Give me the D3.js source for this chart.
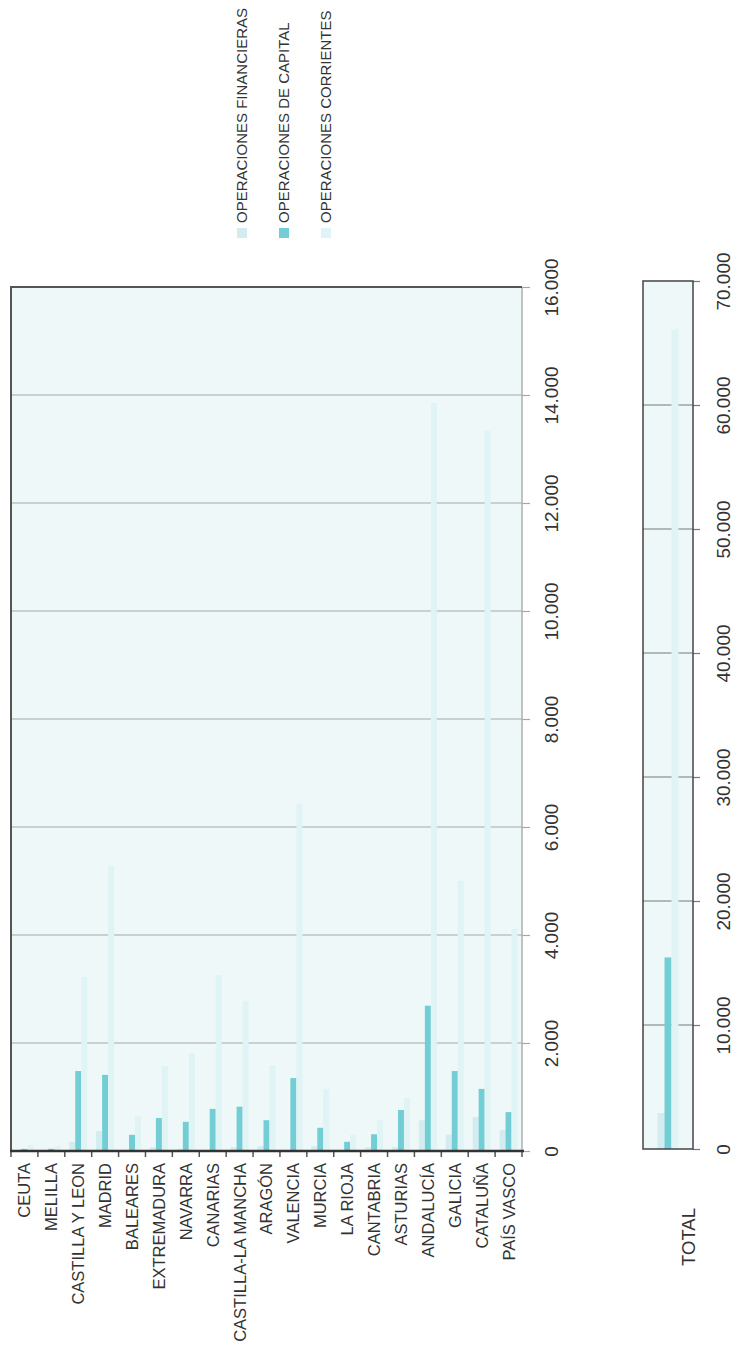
<!DOCTYPE html>
<html>
<head>
<meta charset="utf-8">
<script src="https://cdn.jsdelivr.net/npm/d3@7"></script>
<style>
  body { margin: 0; background: #fff; }
  svg { display: block; font-family: 'Liberation Sans', Arial, sans-serif; }
</style>
</head>
<body>
<div id="chart"></div>
<script>
// data (millones)
var categories = ['CEUTA', 'MELILLA', 'CASTILLA Y LEON', 'MADRID', 'BALEARES', 'EXTREMADURA',
  'NAVARRA', 'CANARIAS', 'CASTILLA-LA MANCHA', 'ARAGÓN', 'VALENCIA', 'MURCIA', 'LA RIOJA',
  'CANTABRIA', 'ASTURIAS', 'ANDALUCÍA', 'GALICIA', 'CATALUÑA', 'PAÍS VASCO'];
var financieras = [10, 10, 170, 370, 10, 70, 40, 0, 70, 90, 0, 90, 0, 70, 70, 570, 300, 630, 390];
var capital = [40, 40, 1480, 1410, 300, 610, 540, 780, 820, 570, 1350, 430, 170, 310, 760, 2690, 1480, 1150, 720];
var corrientes = [110, 90, 3220, 5280, 650, 1570, 1810, 3260, 2780, 1590, 6430, 1150, 300, 570, 980, 13850, 5000, 13330, 4110];

var totalLabel = ['TOTAL'];
var totalFinancieras = [2900];
var totalCapital = [15450];
var totalCorrientes = [66100];

var seriesNames = ['OPERACIONES FINANCIERAS', 'OPERACIONES DE CAPITAL', 'OPERACIONES CORRIENTES'];
var mainTicks = [0, 2000, 4000, 6000, 8000, 10000, 12000, 14000, 16000];
var totalTicks = [0, 10000, 20000, 30000, 40000, 50000, 60000, 70000];

var colors = ['#d3ecf0', '#72cdd4', '#e0f3f5'];
var bg = '#eef8f9';

var svgWidth = 733, svgHeight = 1348;
var svg = d3.select('#chart').append('svg')
  .attr('width', svgWidth)
  .attr('height', svgHeight);

var fmt = d3.formatLocale({decimal: ',', thousands: '.', grouping: [3], currency: ['', '']}).format(',');

// ---------------------------------------------------------------------------------------------
// main chart
var plot = {left: 11, right: 522, top: 287, bottom: 1151};

var x = d3.scaleBand().domain(categories).range([plot.left, plot.right]);
var xSeries = d3.scaleBand().domain(d3.range(3))
  .range([(x.bandwidth() - 18) / 2, (x.bandwidth() + 18) / 2]);
var y = d3.scaleLinear().domain([0, 16000]).range([plot.bottom, plot.top]);

svg.append('rect')
  .attr('x', plot.left).attr('y', plot.top)
  .attr('width', plot.right - plot.left).attr('height', plot.bottom - plot.top)
  .attr('fill', bg);

// gridlines + tick labels on the right
var rightAxis = d3.axisRight(y).tickValues(mainTicks).tickSize(8).tickFormat(fmt);
var yAxis = svg.append('g')
  .attr('transform', `translate(${plot.right}, 0)`)
  .call(rightAxis);
yAxis.select('.domain').remove();
yAxis.selectAll('line').attr('stroke', '#a6a6a6').attr('stroke-width', 1.2);
yAxis.selectAll('text')
  .attr('x', null).attr('dy', null)
  .attr('transform', 'translate(36,0) rotate(-90)')
  .attr('text-anchor', 'middle')
  .attr('font-size', '19px')
  .attr('font-family', "'Liberation Sans', Arial, sans-serif")
  .attr('fill', '#333');

svg.append('g').selectAll('line')
  .data(mainTicks.slice(1, -1))
  .enter().append('line')
  .attr('x1', plot.left).attr('x2', plot.right)
  .attr('y1', d => y(d)).attr('y2', d => y(d))
  .attr('stroke', '#a6a6a6')
  .attr('stroke-width', 1.2);

// bars
var seriesData = [financieras, capital, corrientes];
var groups = svg.append('g').selectAll('g')
  .data(categories)
  .enter().append('g')
  .attr('transform', d => `translate(${x(d)}, 0)`);

groups.selectAll('rect')
  .data((d, i) => seriesData.map((s, k) => ({k: k, v: s[i]})))
  .enter().append('rect')
  .attr('x', d => xSeries(d.k))
  .attr('width', xSeries.bandwidth())
  .attr('y', d => y(d.v))
  .attr('height', d => y(0) - y(d.v))
  .attr('fill', d => colors[d.k]);

// frame
svg.append('line')
  .attr('x1', plot.right).attr('x2', plot.right)
  .attr('y1', plot.top).attr('y2', plot.bottom)
  .attr('stroke', '#aab0b2').attr('stroke-width', 1.5);
svg.append('path')
  .attr('d', `M${plot.left},${plot.bottom} V${plot.top} H${plot.right}`)
  .attr('fill', 'none')
  .attr('stroke', '#555').attr('stroke-width', 2);

// category axis: ticks at band edges
var edges = categories.map(c => x(c)).concat([plot.right]);
svg.append('g').selectAll('line')
  .data(edges)
  .enter().append('line')
  .attr('x1', d => d).attr('x2', d => d)
  .attr('y1', plot.bottom).attr('y2', plot.bottom + 6)
  .attr('stroke', '#555').attr('stroke-width', 1.5);
svg.append('line')
  .attr('x1', plot.left - 1).attr('x2', plot.right + 2)
  .attr('y1', plot.bottom).attr('y2', plot.bottom)
  .attr('stroke', '#333').attr('stroke-width', 2.5);

svg.append('g').selectAll('text')
  .data(categories)
  .enter().append('text')
  .attr('transform', d => `translate(${x(d) + x.bandwidth() / 2}, ${plot.bottom + 12}) rotate(-90)`)
  .attr('dy', '0.36em')
  .attr('text-anchor', 'end')
  .attr('font-size', '16.5px')
  .attr('fill', '#333')
  .text(d => d);

// ---------------------------------------------------------------------------------------------
// total chart
var tplot = {left: 643, right: 693, top: 281, bottom: 1149};
var tx = d3.scaleBand().domain(totalLabel).range([tplot.left, tplot.right]);
var txSeries = d3.scaleBand().domain(d3.range(3))
  .range([(tx.bandwidth() - 21) / 2, (tx.bandwidth() + 21) / 2]);
var ty = d3.scaleLinear().domain([0, 70000]).range([tplot.bottom, tplot.top]);

svg.append('rect')
  .attr('x', tplot.left).attr('y', tplot.top)
  .attr('width', tplot.right - tplot.left).attr('height', tplot.bottom - tplot.top)
  .attr('fill', bg);

var tAxis = svg.append('g')
  .attr('transform', `translate(${tplot.right}, 0)`)
  .call(d3.axisRight(ty).tickValues(totalTicks).tickSize(7).tickFormat(fmt));
tAxis.select('.domain').remove();
tAxis.selectAll('line').attr('stroke', '#777').attr('stroke-width', 1.2);
tAxis.selectAll('text')
  .attr('x', null).attr('dy', null)
  .attr('transform', 'translate(37,0) rotate(-90)')
  .attr('text-anchor', 'middle')
  .attr('font-size', '19px')
  .attr('font-family', "'Liberation Sans', Arial, sans-serif")
  .attr('fill', '#333');

svg.append('g').selectAll('line')
  .data(totalTicks.slice(1, -1))
  .enter().append('line')
  .attr('x1', tplot.left).attr('x2', tplot.right)
  .attr('y1', d => ty(d)).attr('y2', d => ty(d))
  .attr('stroke', '#777')
  .attr('stroke-width', 1.2);

var totalData = [totalFinancieras, totalCapital, totalCorrientes];
svg.append('g').selectAll('g')
  .data(totalLabel)
  .enter().append('g')
  .attr('transform', d => `translate(${tx(d)}, 0)`)
  .selectAll('rect')
  .data((d, i) => totalData.map((s, k) => ({k: k, v: s[i]})))
  .enter().append('rect')
  .attr('x', d => txSeries(d.k))
  .attr('width', txSeries.bandwidth())
  .attr('y', d => ty(d.v))
  .attr('height', d => ty(0) - ty(d.v))
  .attr('fill', d => colors[d.k]);

svg.append('rect')
  .attr('x', tplot.left).attr('y', tplot.top)
  .attr('width', tplot.right - tplot.left).attr('height', tplot.bottom - tplot.top)
  .attr('fill', 'none')
  .attr('stroke', '#444').attr('stroke-width', 1.5);

svg.append('text')
  .attr('transform', 'translate(695, 1237) rotate(-90)')
  .attr('text-anchor', 'middle')
  .attr('font-size', '18.5px')
  .attr('fill', '#333')
  .text(totalLabel[0]);

// ---------------------------------------------------------------------------------------------
// legend
var legend = svg.append('g').selectAll('g')
  .data(seriesNames)
  .enter().append('g')
  .attr('transform', (d, i) => `translate(${242 + i * 42}, 0)`);

legend.append('rect')
  .attr('x', -5).attr('y', 228)
  .attr('width', 10).attr('height', 10)
  .attr('fill', (d, i) => colors[i]);

legend.append('text')
  .attr('transform', 'translate(5, 223) rotate(-90)')
  .attr('text-anchor', 'start')
  .attr('font-size', '15px')
  .attr('fill', '#333')
  .text(d => d);
</script>
</body>
</html>
